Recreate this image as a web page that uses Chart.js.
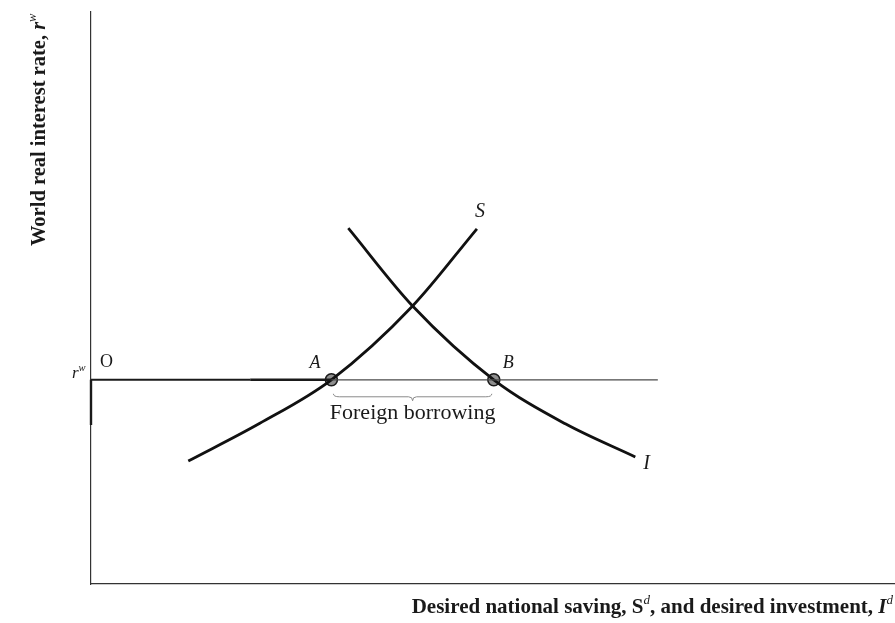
<!DOCTYPE html>
<html>
<head>
<meta charset="utf-8">
<script src="https://cdn.jsdelivr.net/npm/chart.js@4"></script>
<style>
  body { margin: 0; background: #fff; }
  #wrap { width: 895px; height: 623px; }
</style>
</head>
<body>
<div id="wrap"><canvas id="chart"></canvas></div>
<script>
// values (x: 0..100 along the axis, y: 0..100 up the axis)
const worldRate = 35.7;
const rateLineX = [0, 19.8, 29.9, 70.5];
const axisMarkY = [35.7, 27.8];
const savingX = [12.1, 21.0, 29.9, 40.0, 48.0];
const savingY = [21.5, 28.1, 35.7, 48.6, 62.1];
const investX = [32.0, 40.0, 50.1, 59.0, 67.7];
const investY = [62.2, 48.6, 35.7, 28.0, 22.2];
const pointA = [29.9, 35.7];
const pointB = [50.1, 35.7];

function toPoints(xs, ys) {
    let pts = [];
    for (let i = 0; i < xs.length; i++) {
        pts.push({x: xs[i], y: ys[i]});
    }
    return pts;
}

const serif = '"Liberation Serif", "DejaVu Serif", serif';

// draws text pieces one after another; sup pieces are small and raised
function drawRuns(ctx, runs, x, y, size) {
    let cx = x;
    for (let i = 0; i < runs.length; i++) {
        let r = runs[i];
        let s = r.sup ? size * 0.62 : size;
        ctx.font = (r.italic ? 'italic ' : '') + (r.bold ? 'bold ' : '') + s + 'px ' + serif;
        ctx.fillText(r.t, cx, r.sup ? y - size * 0.42 : y);
        cx += ctx.measureText(r.t).width;
    }
    return cx - x;
}
function runsWidth(ctx, runs, size) {
    let w = 0;
    for (let i = 0; i < runs.length; i++) {
        let r = runs[i];
        let s = r.sup ? size * 0.62 : size;
        ctx.font = (r.italic ? 'italic ' : '') + (r.bold ? 'bold ' : '') + s + 'px ' + serif;
        w += ctx.measureText(r.t).width;
    }
    return w;
}

const labelsPlugin = {
    id: 'labels',
    afterDatasetsDraw(chart) {
        const ctx = chart.ctx;
        const xs = chart.scales.x, ys = chart.scales.y;
        const rY = ys.getPixelForValue(worldRate);
        ctx.save();
        ctx.fillStyle = '#1a1a1a';
        ctx.textBaseline = 'alphabetic';

        // brace under the foreign borrowing gap
        const ax = xs.getPixelForValue(pointA[0]), bx = xs.getPixelForValue(pointB[0]);
        const mid = (ax + bx) / 2;
        ctx.strokeStyle = '#8a8a8a';
        ctx.lineWidth = 1;
        ctx.beginPath();
        ctx.moveTo(ax + 2, rY + 14);
        ctx.quadraticCurveTo(ax + 2, rY + 17, ax + 8, rY + 17);
        ctx.lineTo(mid - 4, rY + 17);
        ctx.quadraticCurveTo(mid, rY + 17, mid, rY + 21);
        ctx.quadraticCurveTo(mid, rY + 17, mid + 4, rY + 17);
        ctx.lineTo(bx - 8, rY + 17);
        ctx.quadraticCurveTo(bx - 2, rY + 17, bx - 2, rY + 14);
        ctx.stroke();

        ctx.textAlign = 'center';
        ctx.font = '22px ' + serif;
        ctx.fillText('Foreign borrowing', mid, rY + 39);

        ctx.textAlign = 'left';
        ctx.font = '18px ' + serif;
        ctx.fillText('O', chart.chartArea.left + 9, rY - 13);
        ctx.font = 'italic 18px ' + serif;
        ctx.fillText('A', ax - 22, rY - 12);
        ctx.fillText('B', bx + 9, rY - 12);
        ctx.font = 'italic 20px ' + serif;
        const sEnd = savingX.length - 1, iEnd = investX.length - 1;
        ctx.fillText('S', xs.getPixelForValue(savingX[sEnd]) - 2, ys.getPixelForValue(savingY[sEnd]) - 12);
        ctx.fillText('I', xs.getPixelForValue(investX[iEnd]) + 8, ys.getPixelForValue(investY[iEnd]) + 12);

        // r^w at the axis
        drawRuns(ctx, [{t: 'r', italic: true}, {t: 'w', italic: true, sup: true}], chart.chartArea.left - 19, rY - 2, 17);

        // x axis title, right aligned
        const xRuns = [
            {t: 'Desired national saving, ', bold: true},
            {t: 'S', bold: true},
            {t: 'd', italic: true, sup: true},
            {t: ', and desired investment, ', bold: true},
            {t: 'I', italic: true, bold: true},
            {t: 'd', italic: true, sup: true}
        ];
        const xw = runsWidth(ctx, xRuns, 21);
        drawRuns(ctx, xRuns, 893 - xw, 613, 21);

        // y axis title, rotated, in the upper part
        const yRuns = [
            {t: 'World real interest rate, ', bold: true},
            {t: 'r', italic: true, bold: true},
            {t: 'w', italic: true, sup: true}
        ];
        ctx.translate(45, 246);
        ctx.rotate(-Math.PI / 2);
        drawRuns(ctx, yRuns, 0, 0, 20.5);
        ctx.restore();
    }
};

new Chart(document.getElementById('chart'), {
    type: 'scatter',
    data: {
        datasets: [{
            label: 'world rate',
            data: toPoints(rateLineX, rateLineX.map(() => worldRate)),
            showLine: true,
            borderColor: '#222',
            borderWidth: 1.4,
            pointRadius: 0,
            segment: {
                borderWidth: ctx => ctx.p0DataIndex === 0 ? 2 : (ctx.p0DataIndex === 1 ? 2.6 : 1.2),
                borderColor: ctx => ctx.p0DataIndex === 2 ? '#4a4a4a' : '#1a1a1a'
            }
        }, {
            label: 'axis mark',
            data: toPoints([0, 0], axisMarkY),
            showLine: true,
            borderColor: '#1a1a1a',
            borderWidth: 2.4,
            pointRadius: 0
        }, {
            label: 'S',
            data: toPoints(savingX, savingY),
            showLine: true,
            borderColor: '#111',
            borderWidth: 2.8,
            pointRadius: 0,
            cubicInterpolationMode: 'monotone'
        }, {
            label: 'I',
            data: toPoints(investX, investY),
            showLine: true,
            borderColor: '#111',
            borderWidth: 2.8,
            pointRadius: 0,
            cubicInterpolationMode: 'monotone'
        }, {
            label: 'A and B',
            data: [{x: pointA[0], y: pointA[1]}, {x: pointB[0], y: pointB[1]}],
            showLine: false,
            pointRadius: 6,
            pointBackgroundColor: '#8e8e8e',
            pointBorderColor: '#1a1a1a',
            pointBorderWidth: 1.6
        }]
    },
    options: {
        responsive: true,
        maintainAspectRatio: false,
        animation: false,
        clip: false,
        layout: {
            autoPadding: false,
            padding: {left: 91, top: 12, right: 0, bottom: 39}
        },
        plugins: {
            legend: {display: false},
            tooltip: {enabled: false}
        },
        scales: {
            x: {
                type: 'linear',
                min: 0,
                max: 100,
                grid: {display: false, drawTicks: false, tickLength: 0},
                ticks: {display: false, padding: 0},
                border: {display: true, color: '#333', width: 1.2}
            },
            y: {
                type: 'linear',
                min: 0,
                max: 100,
                grid: {display: false, drawTicks: false, tickLength: 0},
                ticks: {display: false, padding: 0},
                border: {display: true, color: '#333', width: 1.2}
            }
        }
    },
    plugins: [labelsPlugin]
});
</script>
</body>
</html>
